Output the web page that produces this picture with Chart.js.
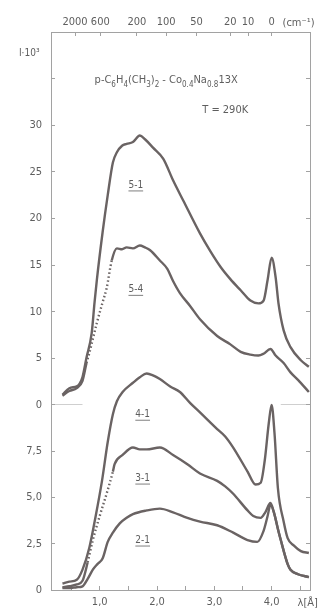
<!DOCTYPE html>
<html>
<head>
<meta charset="utf-8">
<script src="https://cdn.jsdelivr.net/npm/chart.js@4.4.1/dist/chart.umd.min.js"></script>
<style>
  html, body { margin: 0; padding: 0; background: #fff; }
  #wrap { width: 326px; height: 610px; position: relative; }
</style>
</head>
<body>
<div id="wrap"><canvas id="c"></canvas></div>
<script>
/* neutron spectra, p-xylene in Co/Na 13X — two stacked intensity panels */

// wavelength axis (A), bottom and top
const xTickValues = [0.5, 1, 1.5, 2, 2.5, 3, 3.5, 4, 4.5];
const xTickLabels = ['', '1,0', '', '2,0', '', '3,0', '', '4,0', ''];
const topTickValues = [0.57, 1.01, 1.65, 2.16, 2.69, 3.28, 3.59, 4.0];
const topTickLabels = ['2000', '600', '200', '100', '50', '20', '10', '0'];

// upper panel (I x 10^3) and lower panel ticks
const upperTickValues = [0, 5, 10, 15, 20, 25, 30, 35, 40];
const upperTickLabels = ['0', '5', '10', '15', '20', '25', '30', '', ''];
const lowerTickValues = [0, 2.5, 5, 7.5, 10];
const lowerTickLabels = ['0', '2,5', '5,0', '7,5', ''];

// upper panel series
const lam51 = [0.35, 0.47, 0.60, 0.65, 0.70, 0.77, 0.86, 0.91, 0.95, 1.05, 1.14, 1.23, 1.30, 1.39, 1.47, 1.58, 1.70, 1.79, 1.93, 2.11, 2.28, 2.46, 2.75, 2.93, 3.11, 3.28, 3.46, 3.63, 3.77, 3.86, 3.93, 4.00, 4.07, 4.12, 4.21, 4.33, 4.51, 4.65];
const val51 = [1.1, 1.8, 2.0, 2.3, 3.0, 5.1, 7.7, 11.0, 13.4, 18.5, 22.5, 26.0, 27.1, 27.8, 28.0, 28.2, 28.9, 28.5, 27.6, 26.4, 24.1, 21.9, 18.4, 16.5, 14.8, 13.5, 12.3, 11.2, 10.9, 11.2, 13.4, 15.8, 13.7, 10.9, 8.0, 6.2, 4.8, 4.1];

const lam54 = [0.35, 0.47, 0.60, 0.70, 0.77, 0.82, 0.95, 1.05, 1.12, 1.21, 1.30, 1.39, 1.47, 1.58, 1.70, 1.79, 1.88, 2.05, 2.18, 2.28, 2.40, 2.58, 2.75, 3.05, 3.28, 3.46, 3.63, 3.77, 3.86, 3.98, 4.07, 4.21, 4.33, 4.46, 4.65];
const val54 = [1.0, 1.5, 1.8, 2.6, 4.5, 5.6, 8.8, 11.0, 12.5, 15.5, 16.8, 16.7, 16.9, 16.8, 17.1, 16.9, 16.6, 15.5, 14.6, 13.3, 12.0, 10.6, 9.2, 7.4, 6.5, 5.7, 5.4, 5.3, 5.5, 6.0, 5.3, 4.5, 3.5, 2.7, 1.4];

// lower panel series
const lam41 = [0.35, 0.47, 0.60, 0.70, 0.82, 0.93, 1.04, 1.14, 1.23, 1.30, 1.40, 1.58, 1.70, 1.82, 1.93, 2.05, 2.23, 2.40, 2.58, 2.75, 3.05, 3.19, 3.33, 3.58, 3.72, 3.81, 3.88, 3.95, 4.00, 4.05, 4.11, 4.21, 4.28, 4.39, 4.51, 4.65];
const val41 = [0.35, 0.45, 0.55, 1.1, 2.3, 4.0, 5.9, 8.0, 9.5, 10.2, 10.7, 11.2, 11.5, 11.7, 11.6, 11.4, 11.0, 10.7, 10.1, 9.6, 8.7, 8.3, 7.7, 6.4, 5.7, 5.8, 7.0, 9.0, 10.0, 8.5, 5.5, 3.7, 2.8, 2.4, 2.1, 2.0];

const lam31 = [0.35, 0.47, 0.60, 0.70, 0.79, 0.88, 1.00, 1.12, 1.23, 1.26, 1.40, 1.58, 1.70, 1.82, 2.05, 2.28, 2.53, 2.75, 3.05, 3.19, 3.33, 3.58, 3.68, 3.81, 3.89, 3.98, 4.04, 4.11, 4.16, 4.28, 4.33, 4.46, 4.65];
const val31 = [0.15, 0.2, 0.3, 0.5, 1.5, 2.7, 4.0, 5.2, 6.4, 6.8, 7.3, 7.7, 7.6, 7.6, 7.7, 7.3, 6.8, 6.3, 5.9, 5.6, 5.2, 4.3, 4.0, 3.9, 4.2, 4.7, 4.2, 3.3, 2.7, 1.4, 1.1, 0.85, 0.7];

const lam21 = [0.35, 0.47, 0.60, 0.70, 0.79, 0.88, 0.96, 1.05, 1.14, 1.23, 1.35, 1.47, 1.58, 1.82, 2.05, 2.28, 2.53, 2.75, 3.05, 3.33, 3.58, 3.75, 3.86, 3.93, 3.98, 4.04, 4.11, 4.16, 4.28, 4.33, 4.46, 4.65];
const val21 = [0.1, 0.1, 0.15, 0.2, 0.6, 1.1, 1.4, 1.7, 2.6, 3.1, 3.6, 3.9, 4.1, 4.3, 4.4, 4.2, 3.9, 3.7, 3.5, 3.1, 2.7, 2.6, 3.2, 4.0, 4.6, 4.2, 3.3, 2.7, 1.4, 1.1, 0.85, 0.7];

// short base line pieces at upper-panel zero
const zeroLeft = [0.15, 0.70];
const zeroRight = [4.16, 4.67];

const INK = '#6a6363';
const TEXT = '#5e5e5e';
const FRAME = '#a2a2a2';
const FONT = "'Liberation Sans Narrow', 'DejaVu Sans Condensed', 'Liberation Sans', sans-serif";

function pts(lam, val) {
  return lam.map(function(l, i) { return { x: l, y: val[i] }; });
}

function series(label, lam, val, axis, dotted) {
  return {
    label: label,
    data: pts(lam, val),
    yAxisID: axis,
    borderColor: INK,
    borderWidth: 2.4,
    pointRadius: 0,
    cubicInterpolationMode: 'monotone',
    clip: false,
    segment: {
      borderDash: function(ctx) {
        if (!dotted) return undefined;
        return (ctx.p0.parsed.x >= dotted[0] && ctx.p1.parsed.x <= dotted[1]) ? [1.5, 2.5] : undefined;
      },
    },
  };
}

function baseLine(range) {
  return {
    data: [{ x: range[0], y: 0 }, { x: range[1], y: 0 }],
    yAxisID: 'yU',
    borderColor: FRAME,
    borderWidth: 1,
    pointRadius: 0,
  };
}

// text placed in data units: [text, lambda, value, axis, size, underline]
const notes = [
  ['5-1', 1.63, 23.6, 'yU', 10, true],
  ['5-4', 1.63, 12.4, 'yU', 10, true],
  ['4-1', 1.75, 9.5, 'yL', 10, true],
  ['3-1', 1.75, 6.05, 'yL', 10, true],
  ['2-1', 1.75, 2.7, 'yL', 10, true],
  ['T = 290K', 3.19, 31.6, 'yU', 11, false],
  ['I\u00b710\u00b3', -0.23, 37.7, 'yU', 10, false],
  ['\u03bb[\u00c5]', 4.63, -0.7, 'yL', 11, false],
  ['(cm\u207b\u00b9)', 4.47, 41.0, 'yU', 11, false],
];
const title = [['p-C', 0], ['6', 1], ['H', 0], ['4', 1], ['(CH', 0], ['3', 1], [')', 0], ['2', 1], [' - Co', 0], ['0.4', 1], ['Na', 0], ['0.8', 1], ['13X', 0]];
const titleAt = [2.16, 34.8];

const textPlugin = {
  id: 'notes',
  afterDraw(chart) {
    const c = chart.ctx;
    const x = chart.scales.x;
    c.save();
    c.fillStyle = TEXT;
    c.strokeStyle = TEXT;
    c.textBaseline = 'middle';
    notes.forEach(function(n) {
      const px = x.getPixelForValue(n[1]);
      const py = chart.scales[n[3]].getPixelForValue(n[2]);
      c.font = n[4] + 'px ' + FONT;
      c.textAlign = 'center';
      c.fillText(n[0], px, py);
      if (n[5]) {
        const w = c.measureText(n[0]).width;
        c.lineWidth = 0.8;
        c.beginPath();
        c.moveTo(px - w / 2, py + 6);
        c.lineTo(px + w / 2, py + 6);
        c.stroke();
      }
    });
    // title with subscripts
    c.textAlign = 'left';
    let w = 0;
    title.forEach(function(s) {
      c.font = (s[1] ? 8 : 11) + 'px ' + FONT;
      w += c.measureText(s[0]).width;
    });
    let px = x.getPixelForValue(titleAt[0]) - w / 2;
    const py = chart.scales.yU.getPixelForValue(titleAt[1]);
    title.forEach(function(s) {
      c.font = (s[1] ? 8 : 11) + 'px ' + FONT;
      c.fillText(s[0], px, s[1] ? py + 4 : py);
      px += c.measureText(s[0]).width;
    });
    c.restore();
  },
};

function fixedTicks(values) {
  return function(scale) {
    scale.ticks = values.map(function(v) { return { value: v }; });
  };
}

function tickStyle(pad, show) {
  return {
    display: show,
    color: TEXT,
    font: { family: FONT, size: 11 },
    padding: pad,
    maxRotation: 0,
    autoSkip: false,
  };
}

const gridStyle = { drawOnChartArea: false, tickLength: -4, color: FRAME, lineWidth: 1 };
const borderStyle = { color: FRAME, width: 1 };

function yAxis(pos, weight, max, values, labels, show) {
  return {
    type: 'linear',
    position: pos,
    stack: pos,
    stackWeight: weight,
    min: 0,
    max: max,
    afterBuildTicks: fixedTicks(values),
    afterFit(scale) { scale.width = pos === 'left' ? 51 : 16; },
    ticks: Object.assign(tickStyle(13, show), {
      callback: function(v, i) { return labels[i]; },
    }),
    grid: gridStyle,
    border: borderStyle,
  };
}

new Chart(document.getElementById('c'), {
  type: 'line',
  data: {
    datasets: [
      series('5-1', lam51, val51, 'yU', null),
      series('5-4', lam54, val54, 'yU', [0.76, 1.22]),
      series('4-1', lam41, val41, 'yL', null),
      series('3-1', lam31, val31, 'yL', [0.78, 1.24]),
      series('2-1', lam21, val21, 'yL', null),
      baseLine(zeroLeft),
      baseLine(zeroRight),
    ],
  },
  options: {
    responsive: true,
    maintainAspectRatio: false,
    animation: false,
    layout: { padding: 0 },
    plugins: { legend: { display: false }, tooltip: { enabled: false } },
    scales: {
      x: {
        type: 'linear',
        position: 'bottom',
        min: 0.15,
        max: 4.67,
        afterBuildTicks: fixedTicks(xTickValues),
        afterFit(scale) { scale.height = 20; },
        ticks: Object.assign(tickStyle(10, true), {
          callback: function(v, i) { return xTickLabels[i]; },
        }),
        grid: gridStyle,
        border: borderStyle,
      },
      x2: {
        type: 'linear',
        position: 'top',
        min: 0.15,
        max: 4.67,
        afterBuildTicks: fixedTicks(topTickValues),
        afterFit(scale) { scale.height = 32; },
        ticks: Object.assign(tickStyle(7, true), {
          callback: function(v, i) { return topTickLabels[i]; },
        }),
        grid: gridStyle,
        border: borderStyle,
      },
      // left boxes are laid out in reverse order, so the lower panel comes first here
      yL: yAxis('left', 1, 10, lowerTickValues, lowerTickLabels, true),
      yU: yAxis('left', 2.016, 40, upperTickValues, upperTickLabels, true),
      yUR: yAxis('right', 2.016, 40, upperTickValues, upperTickLabels, false),
      yLR: yAxis('right', 1, 10, lowerTickValues, lowerTickLabels, false),
    },
  },
  plugins: [textPlugin],
});
</script>
</body>
</html>
